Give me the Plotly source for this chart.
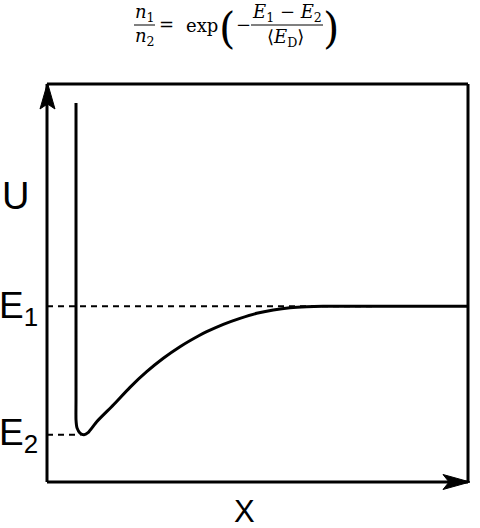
import plotly.graph_objects as go

# ---- data (domain units: x 0..10, y 0..10) ----
curve_x = [0.689, 0.689, 0.689, 0.713, 0.784, 0.879, 0.974, 1.181, 1.575, 1.971,
           2.368, 2.762, 3.159, 3.594, 3.793, 4.188, 4.584, 4.981, 5.375, 5.772,
           6.169, 6.556, 10.0]
curve_y = [9.52, 2.06, 1.56, 1.36, 1.23, 1.19, 1.24, 1.515, 1.935, 2.379,
           2.771, 3.108, 3.399, 3.668, 3.776, 3.962, 4.113, 4.239, 4.322, 4.379,
           4.405, 4.415, 4.415]
E1 = 4.415
E2 = 1.19
E1_dash_end = 7.72
E2_dash_end = 0.80

W, H = 480, 528
L, R, T, B = 47, 468, 84, 482  # plot area in pixels


def px(xp):
    return (xp - L) / (R - L)


def py(yp):
    return (B - yp) / (B - T)


fig = go.Figure()

fig.add_trace(go.Scatter(x=[0, E1_dash_end], y=[E1, E1], mode="lines",
                         line=dict(color="black", width=2, dash="6px,5px"),
                         hoverinfo="skip"))
fig.add_trace(go.Scatter(x=[0, E2_dash_end], y=[E2, E2], mode="lines",
                         line=dict(color="black", width=2, dash="6px,5px"),
                         hoverinfo="skip"))
fig.add_trace(go.Scatter(x=curve_x, y=curve_y, mode="lines",
                         line=dict(color="black", width=3, shape="spline", smoothing=0.6),
                         hoverinfo="skip"))

shapes = []
# frame
for (x0, y0, x1, y1) in [(0, 0, 0, 1), (0, 0, 1, 0), (0, 1, 1, 1), (1, 0, 1, 1)]:
    shapes.append(dict(type="line", xref="paper", yref="paper", x0=x0, y0=y0, x1=x1, y1=y1,
                       line=dict(color="black", width=3), layer="above"))


def path(points):
    s = "M " + " L ".join(f"{px(a):.5f},{py(b):.5f}" for a, b in points) + " Z"
    return s


# arrow heads
shapes.append(dict(type="path", xref="paper", yref="paper",
                   path=path([(47.5, 83), (40, 109), (47.5, 104), (55, 109)]),
                   fillcolor="black", line=dict(color="black", width=1), layer="above"))
shapes.append(dict(type="path", xref="paper", yref="paper",
                   path=path([(470, 482), (443, 474.5), (449, 482), (443, 489.5)]),
                   fillcolor="black", line=dict(color="black", width=1), layer="above"))
# fraction bars
shapes.append(dict(type="line", xref="paper", yref="paper", x0=px(134), x1=px(155),
                   y0=py(25), y1=py(25), line=dict(color="black", width=1)))
shapes.append(dict(type="line", xref="paper", yref="paper", x0=px(251), x1=px(323),
                   y0=py(25), y1=py(25), line=dict(color="black", width=1)))

sans = "Liberation Sans, Arial, sans-serif"
serif = "DejaVu Serif, Liberation Serif, serif"

annotations = []


def ann(text, xp, yp, size, family, xanchor="center", yanchor="middle"):
    annotations.append(dict(text=text, x=px(xp), y=py(yp), xref="paper", yref="paper",
                            xanchor=xanchor, yanchor=yanchor, showarrow=False,
                            borderpad=0,
                            font=dict(size=size, family=family, color="black")))


ann("U", 15, 196, 38, sans)
ann("E<sub>1</sub>", -2, 308, 37, sans, xanchor="left")
ann("E<sub>2</sub>", -2, 435, 37, sans, xanchor="left")
ann("X", 244, 511, 31, sans)

fs = 18
ann("<i>n</i><sub>1</sub>", 145, 0, fs, serif, yanchor="top")
ann("<i>n</i><sub>2</sub>", 145, 37, fs, serif)
ann("=", 166, 25, fs, serif)
ann("exp", 202, 26, fs, serif)
ann("(", 226.5, 28, 42, serif)
ann("−", 243.5, 25, fs, serif)
ann("<i>E</i><sub>1</sub> − <i>E</i><sub>2</sub>", 287, 0, fs, serif, yanchor="top")
ann("⟨<i>E</i><sub>D</sub>⟩", 285, 38, fs, serif)
ann(")", 331, 28, 42, serif)

fig.update_layout(
    width=W, height=H,
    margin=dict(l=L, r=W - R, t=T, b=H - B, pad=0),
    paper_bgcolor="white", plot_bgcolor="white",
    showlegend=False,
    xaxis=dict(range=[0, 10], visible=False, fixedrange=True),
    yaxis=dict(range=[0, 10], visible=False, fixedrange=True),
    shapes=shapes, annotations=annotations,
)

fig.write_html("out.html")
